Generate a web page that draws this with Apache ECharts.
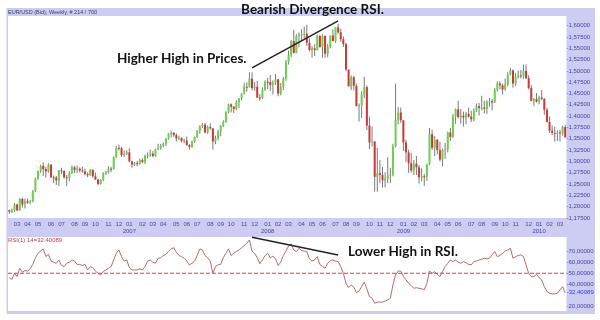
<!DOCTYPE html>
<html><head><meta charset="utf-8">
<script src="https://cdn.jsdelivr.net/npm/echarts@6/dist/echarts.min.js"></script>
<style>html,body{margin:0;padding:0;background:#fff}#c{width:600px;height:320px}</style>
</head><body><div id="c"></div>
<script>
// ---------- DATA (EUR/USD weekly, 214 bars from week of 2006-02-13) ----------
const firstWeek = '2006-02-13';
const weekCount = 214;

const opens = [
1.1920,1.1890,1.1920,1.2050,1.1920,1.2170,1.2050,1.2120,1.2090,1.2110,
1.2340,1.2620,1.2790,1.2900,1.2830,1.2780,1.2930,1.2650,1.2640,1.2580,
1.2800,1.2790,1.2650,1.2640,1.2740,1.2870,1.2810,1.2840,1.2800,1.2780,
1.2720,1.2700,1.2810,1.2670,1.2600,1.2500,1.2590,1.2740,1.2760,1.2840,
1.2830,1.3090,1.3300,1.3290,1.3140,1.3160,1.3200,1.3000,1.2930,1.2960,
1.2940,1.3030,1.2990,1.3120,1.3150,1.3170,1.3120,1.3270,1.3300,1.3350,
1.3390,1.3500,1.3620,1.3630,1.3580,1.3510,1.3520,1.3450,1.3460,1.3360,
1.3320,1.3440,1.3540,1.3680,1.3780,1.3810,1.3640,1.3760,1.3730,1.3440,
1.3520,1.3660,1.3790,1.3870,1.4090,1.4260,1.4210,1.4160,1.4310,1.4390,
1.4500,1.4650,1.4640,1.4830,1.4620,1.4650,1.4410,1.4400,1.4580,1.4760,
1.4750,1.4690,1.4740,1.4810,1.4500,1.4640,1.4830,1.5190,1.5350,1.5660,
1.5400,1.5780,1.5800,1.5810,1.5820,1.5620,1.5460,1.5500,1.5460,1.5770,
1.5530,1.5770,1.5380,1.5530,1.5780,1.5660,1.5960,1.5850,1.5700,1.5590,
1.5030,1.4660,1.4860,1.4670,1.4220,1.4240,1.4480,1.4640,1.3790,1.3420,
1.3440,1.2660,1.2740,1.2700,1.2580,1.2620,1.2690,1.2710,1.3340,1.3920,
1.4080,1.3910,1.3420,1.3200,1.2960,1.2800,1.2950,1.2870,1.2650,1.2670,
1.2660,1.2940,1.3600,1.3300,1.3480,1.3250,1.3040,1.3250,1.3270,1.3640,
1.3540,1.3990,1.4150,1.3980,1.4010,1.3970,1.4050,1.3990,1.3930,1.4120,
1.4220,1.4180,1.4190,1.4160,1.4320,1.4330,1.4300,1.4580,1.4720,1.4680,
1.4590,1.4700,1.4920,1.5010,1.4720,1.4860,1.4900,1.4880,1.5000,1.4840,
1.4620,1.4340,1.4380,1.4320,1.4410,1.4380,1.4140,1.3870,1.3680,1.3630,
1.3610,1.3640,1.3620,1.3760];

const closes = [
1.1890,1.1920,1.2050,1.1920,1.2170,1.2050,1.2120,1.2090,1.2110,1.2340,
1.2620,1.2790,1.2900,1.2830,1.2780,1.2930,1.2650,1.2640,1.2580,1.2800,
1.2790,1.2650,1.2640,1.2740,1.2870,1.2810,1.2840,1.2800,1.2780,1.2720,
1.2700,1.2810,1.2670,1.2600,1.2500,1.2590,1.2740,1.2760,1.2840,1.2830,
1.3090,1.3300,1.3290,1.3140,1.3160,1.3200,1.3000,1.2930,1.2960,1.2940,
1.3030,1.2990,1.3120,1.3150,1.3170,1.3120,1.3270,1.3300,1.3350,1.3390,
1.3500,1.3620,1.3630,1.3580,1.3510,1.3520,1.3450,1.3460,1.3360,1.3320,
1.3440,1.3540,1.3680,1.3780,1.3810,1.3640,1.3760,1.3730,1.3440,1.3520,
1.3660,1.3790,1.3870,1.4090,1.4260,1.4210,1.4160,1.4310,1.4390,1.4500,
1.4650,1.4640,1.4830,1.4620,1.4650,1.4410,1.4400,1.4580,1.4760,1.4750,
1.4690,1.4740,1.4810,1.4500,1.4640,1.4830,1.5190,1.5350,1.5660,1.5400,
1.5780,1.5800,1.5810,1.5820,1.5620,1.5460,1.5500,1.5460,1.5770,1.5530,
1.5770,1.5380,1.5530,1.5780,1.5660,1.5960,1.5850,1.5700,1.5590,1.5030,
1.4660,1.4860,1.4670,1.4220,1.4240,1.4480,1.4640,1.3790,1.3420,1.3440,
1.2660,1.2740,1.2700,1.2580,1.2620,1.2690,1.2710,1.3340,1.3920,1.4080,
1.3910,1.3420,1.3200,1.2960,1.2800,1.2950,1.2870,1.2650,1.2670,1.2660,
1.2940,1.3600,1.3300,1.3480,1.3250,1.3040,1.3250,1.3270,1.3640,1.3540,
1.3990,1.4150,1.3980,1.4010,1.3970,1.4050,1.3990,1.3930,1.4120,1.4220,
1.4180,1.4190,1.4160,1.4320,1.4330,1.4300,1.4580,1.4720,1.4680,1.4590,
1.4700,1.4920,1.5010,1.4720,1.4860,1.4900,1.4880,1.5000,1.4840,1.4620,
1.4340,1.4380,1.4320,1.4410,1.4380,1.4140,1.3870,1.3680,1.3630,1.3610,
1.3640,1.3620,1.3760,1.3530];

const highs = [
1.1940,1.1960,1.2080,1.2060,1.2190,1.2200,1.2180,1.2180,1.2150,1.2370,
1.2640,1.2800,1.2930,1.2980,1.2880,1.2960,1.2940,1.2690,1.2680,1.2810,
1.2860,1.2800,1.2700,1.2780,1.2910,1.2900,1.2910,1.2870,1.2880,1.2840,
1.2760,1.2830,1.2830,1.2750,1.2620,1.2610,1.2760,1.2790,1.2890,1.2880,
1.3110,1.3340,1.3370,1.3320,1.3240,1.3250,1.3290,1.3020,1.2990,1.3010,
1.3060,1.3070,1.3150,1.3200,1.3260,1.3230,1.3280,1.3390,1.3390,1.3420,
1.3520,1.3630,1.3680,1.3650,1.3620,1.3570,1.3530,1.3500,1.3550,1.3380,
1.3460,1.3550,1.3690,1.3800,1.3850,1.3850,1.3790,1.3840,1.3740,1.3570,
1.3700,1.3800,1.3910,1.4110,1.4280,1.4280,1.4220,1.4350,1.4400,1.4510,
1.4740,1.4750,1.4970,1.4970,1.4750,1.4780,1.4490,1.4640,1.4790,1.4850,
1.4910,1.4790,1.4930,1.4830,1.4730,1.4870,1.5240,1.5450,1.5680,1.5910,
1.5810,1.5850,1.5920,1.5980,1.6020,1.5720,1.5550,1.5590,1.5800,1.5800,
1.5810,1.5790,1.5600,1.5780,1.5920,1.5960,1.6040,1.5930,1.5760,1.5620,
1.5030,1.4900,1.4890,1.4720,1.4280,1.4550,1.4870,1.4680,1.3990,1.3770,
1.3450,1.3300,1.3030,1.2880,1.2760,1.3090,1.2860,1.3390,1.4720,1.4200,
1.4190,1.3910,1.3480,1.3260,1.3190,1.3030,1.3120,1.2920,1.2850,1.2720,
1.2950,1.3740,1.3700,1.3560,1.3490,1.3430,1.3280,1.3410,1.3660,1.3740,
1.4050,1.4170,1.4340,1.4160,1.4100,1.4090,1.4190,1.4120,1.4170,1.4280,
1.4290,1.4450,1.4340,1.4350,1.4400,1.4380,1.4620,1.4770,1.4770,1.4720,
1.4830,1.4970,1.5060,1.5030,1.4950,1.5010,1.5020,1.5140,1.5140,1.4900,
1.4690,1.4400,1.4510,1.4450,1.4580,1.4400,1.4190,1.3990,1.3790,1.3770,
1.3690,1.3700,1.3790,1.3810];

const lows = [
1.1840,1.1860,1.1880,1.1900,1.1910,1.1980,1.1960,1.2060,1.2050,1.2100,
1.2320,1.2590,1.2750,1.2680,1.2640,1.2750,1.2630,1.2520,1.2480,1.2460,
1.2720,1.2620,1.2460,1.2560,1.2720,1.2740,1.2740,1.2760,1.2750,1.2690,
1.2650,1.2680,1.2640,1.2590,1.2480,1.2490,1.2560,1.2700,1.2730,1.2760,
1.2820,1.3080,1.3240,1.3100,1.3100,1.3140,1.2980,1.2860,1.2900,1.2890,
1.2930,1.2960,1.2940,1.3070,1.3100,1.3090,1.3100,1.3250,1.3260,1.3310,
1.3340,1.3480,1.3530,1.3540,1.3440,1.3470,1.3420,1.3400,1.3350,1.3260,
1.3300,1.3410,1.3520,1.3610,1.3740,1.3620,1.3610,1.3700,1.3260,1.3380,
1.3470,1.3560,1.3760,1.3850,1.4060,1.4080,1.4070,1.4130,1.4180,1.4350,
1.4480,1.4540,1.4630,1.4570,1.4560,1.4400,1.4340,1.4380,1.4560,1.4600,
1.4560,1.4480,1.4690,1.4440,1.4460,1.4580,1.4780,1.5140,1.5300,1.5380,
1.5390,1.5520,1.5660,1.5710,1.5550,1.5430,1.5290,1.5330,1.5450,1.5510,
1.5290,1.5290,1.5300,1.5500,1.5650,1.5620,1.5820,1.5640,1.5530,1.4990,
1.4660,1.4580,1.4570,1.4220,1.3880,1.3960,1.4400,1.3690,1.3270,1.3330,
1.2330,1.2330,1.2520,1.2420,1.2430,1.2520,1.2520,1.2670,1.3310,1.3820,
1.3850,1.3230,1.2990,1.2750,1.2750,1.2700,1.2700,1.2510,1.2560,1.2460,
1.2570,1.2920,1.3250,1.3120,1.3160,1.3000,1.2890,1.3060,1.3200,1.3450,
1.3520,1.3830,1.3950,1.3830,1.3770,1.3820,1.3970,1.3870,1.3880,1.4090,
1.4010,1.4130,1.4060,1.4050,1.4210,1.4130,1.4300,1.4540,1.4590,1.4480,
1.4560,1.4660,1.4900,1.4630,1.4670,1.4830,1.4830,1.4830,1.4820,1.4590,
1.4330,1.4220,1.4300,1.4260,1.4350,1.4030,1.3860,1.3630,1.3580,1.3440,
1.3450,1.3440,1.3570,1.3530];

const rsi = [
46,44.5,50,47,54.5,51,52.5,52,54,58,
64,68,70,72,65,67,61,60,59,62,
57,56,59,60,62,61,58,58,57,58,
53,56,55,52,50,48.5,51.5,53,54.5,56,
62,68,71,65,61,62,55,53,53,53,
54,53,56,61,62,60,59,63.5,64,66,
67,70,72,73,69,66,65,63.5,61,57.5,
59,61,66,72,71,66,64,61,50,56,
57.6,58,64,68,72,66,68,69.6,71,73,
75,77,80,70,68,64,58.6,62,66,68,
64,65.5,63,57,60,66,70,74.5,76.5,71,
69.6,72.5,70.5,70,69.6,63,61,62,65,58,
56,54.6,59,61.5,62,61,60.5,56,50,41,
37,39.5,37.5,32.5,34,38,42,36,29,27.5,
23,24,24,24,25,26,27.5,39.5,48.5,52,
52,47.3,44,41,39,36.5,37,36.5,36,35,
41,52,50,51.5,49,47,51.5,56,59,62,
60.5,62,60,59,60.5,59.5,58,57.6,60.5,61,
62,62.5,63.6,63,63.6,66.6,69.6,65,66,68,
70,71,72.5,63.6,65,66,66.6,65,57.6,50,
47,47,49,46,44,38,33.5,32,31.5,31.5,
32,35,38,32.40089];

const priceTicks = [1.175,1.2,1.225,1.25,1.275,1.3,1.325,1.35,1.375,1.4,1.425,1.45,1.475,1.5,1.525,1.55,1.575,1.6];
const rsiTicks = [20,40,50,60,70];
const rsiMidLevel = 50;
// annotation trend lines: [week index, value]
const priceTrend = [[93, 1.5067],[126, 1.6104]];
const rsiTrend = [[93, 82.4],[126, 66.5]];

// ---------- CATEGORIES ----------
const weeks = [];
{
  const p = firstWeek.split('-').map(Number);
  const t0 = Date.UTC(p[0], p[1]-1, p[2]);
  for (let i = 0; i < weekCount; i++) weeks.push(new Date(t0 + i*7*86400000).toISOString().slice(0,10));
}
const monthStarts = new Set();
for (let i = 1; i < weeks.length; i++) if (weeks[i].slice(5,7) !== weeks[i-1].slice(5,7)) monthStarts.add(i);

const candles = weeks.map((w,i) => [i, opens[i], closes[i], lows[i], highs[i]]);

// ---------- LAYOUT ----------
const L = 8, W = 558.5;
const P1 = {top: 16, height: 202};
const P2 = {top: 237, height: 74};
const lav = '#cdcdf4';
const axisTxt = '#46469a';
const tinyFont = 'Liberation Sans';
const noteFont = 'bold 13.5px Lato';

const chart = echarts.init(document.getElementById('c'), null, {renderer: 'canvas'});

chart.setOption({
  animation: false,
  backgroundColor: '#ffffff',
  grid: [
    {left: L, top: P1.top, width: W, height: P1.height},
    {left: L, top: P2.top, width: W, height: P2.height}
  ],
  xAxis: [
    {type: 'category', gridIndex: 0, data: weeks, boundaryGap: true,
     axisLine: {show: false}, axisTick: {show: false}, splitLine: {show: false},
     axisLabel: {
       interval: (idx) => monthStarts.has(idx),
       formatter: (val) => { const m = val.slice(5,7); return m === '01' ? m + '\n' + val.slice(0,4) : m; },
       fontSize: 6, lineHeight: 6.5, color: axisTxt, margin: 3.5, fontFamily: tinyFont
     }},
    {type: 'category', gridIndex: 1, data: weeks, boundaryGap: true,
     axisLine: {show: false}, axisTick: {show: false}, axisLabel: {show: false}, splitLine: {show: false}}
  ],
  yAxis: [
    {type: 'value', gridIndex: 0, position: 'right', min: 1.175, max: 1.62125, interval: 0.025,
     axisLine: {show: false}, axisTick: {show: false}, splitLine: {show: false},
     axisLabel: {
       margin: 0, fontSize: 6, color: axisTxt, fontFamily: tinyFont,
       formatter: (v) => priceTicks.some(t => Math.abs(t - v) < 1e-6) ? '-' + v.toFixed(5).replace('.', ',') : ''
     }},
    {type: 'value', gridIndex: 1, position: 'right', min: 16, max: 82.7,
     axisLine: {show: false}, axisTick: {show: false}, splitLine: {show: false},
     axisLabel: {
       margin: 0, fontSize: 6, color: axisTxt, fontFamily: tinyFont, showMinLabel: true, showMaxLabel: true,
       formatter: (v) => rsiTicks.some(t => Math.abs(t - v) < 1e-6) ? '-' + v.toFixed(5).replace('.', ',') : ''
     }}
  ],
  graphic: [
    {type: 'rect', z: -2, silent: true, shape: {x: 6.5, y: 8, width: 588.5, height: 306}, style: {fill: lav}},
    {type: 'rect', z: -1, silent: true, shape: {x: L, y: P1.top, width: W, height: P1.height}, style: {fill: '#ffffff'}},
    {type: 'rect', z: -1, silent: true, shape: {x: L, y: P2.top, width: W, height: P2.height}, style: {fill: '#ffffff'}},
    {type: 'text', z: 10, silent: true, style: {x: 8, y: 12.3, text: 'EUR/USD (Bid), Weekly, # 214 / 700',
      font: '5.5px "Liberation Sans"', fill: '#3a3a5a', textAlign: 'left', textVerticalAlign: 'middle', align: 'left', verticalAlign: 'middle'}},
    {type: 'text', z: 10, silent: true, style: {x: 8, y: 240, text: 'RSI(1) 14=32.40089',
      font: '6px "Liberation Sans"', fill: '#c03c3c', textAlign: 'left', textVerticalAlign: 'middle', align: 'left', verticalAlign: 'middle'}},
    {type: 'text', z: 10, silent: true, style: {x: 312.5, y: 9.5, text: 'Bearish Divergence RSI.',
      font: noteFont, fill: '#111111', textAlign: 'center', textVerticalAlign: 'middle', align: 'center', verticalAlign: 'middle'}},
    {type: 'text', z: 10, silent: true, style: {x: 117, y: 58.5, text: 'Higher High in Prices.',
      font: noteFont, fill: '#111111', textAlign: 'left', textVerticalAlign: 'middle', align: 'left', verticalAlign: 'middle'}},
    {type: 'text', z: 10, silent: true, style: {x: 348, y: 251.5, text: 'Lower High in RSI.',
      font: noteFont, fill: '#111111', textAlign: 'left', textVerticalAlign: 'middle', align: 'left', verticalAlign: 'middle'}}
  ],
  series: [
    {
      type: 'custom', xAxisIndex: 0, yAxisIndex: 0, clip: true,
      data: candles,
      encode: {x: 0, y: [1, 2, 3, 4]},
      renderItem: function (params, api) {
        const i = api.value(0);
        const o = api.value(1), c = api.value(2), lo = api.value(3), hi = api.value(4);
        const pH = api.coord([i, hi]), pL = api.coord([i, lo]);
        const pO = api.coord([i, o]), pC = api.coord([i, c]);
        const x = pH[0];
        let y1 = Math.min(pO[1], pC[1]), y2 = Math.max(pO[1], pC[1]);
        if (y2 - y1 < 1) y2 = y1 + 1;
        const up = c >= o;
        return {type: 'group', children: [
          {type: 'line', shape: {x1: x, y1: pH[1], x2: x, y2: pL[1]}, style: {stroke: '#7a7a7a', lineWidth: 1}},
          {type: 'rect', shape: {x: x - 1, y: y1, width: 2, height: y2 - y1}, style: {fill: up ? '#6ccf4e' : '#cc3838'}}
        ]};
      },
      markLine: {
        silent: true, symbol: 'none', animation: false,
        lineStyle: {color: '#222222', width: 1.5, type: 'solid'},
        label: {show: false},
        data: [[{coord: priceTrend[0]}, {coord: priceTrend[1]}]]
      }
    },
    {
      // RSI 50 reference level (red dashed)
      type: 'custom', xAxisIndex: 1, yAxisIndex: 1, clip: false, z: 4,
      data: [[0, rsiMidLevel]],
      encode: {x: 0, y: 1},
      renderItem: function (params, api) {
        const cs = params.coordSys;
        const y = api.coord([api.value(0), api.value(1)])[1];
        return {type: 'line', shape: {x1: cs.x, y1: y, x2: cs.x + cs.width, y2: y},
          style: {stroke: '#f03a3a', lineWidth: 1.15, lineDash: [4, 2], opacity: 1}};
      }
    },
    {
      type: 'line', xAxisIndex: 1, yAxisIndex: 1, data: rsi,
      symbol: 'none', showSymbol: false, z: 3,
      lineStyle: {color: '#b86a6a', width: 1},
      endLabel: {show: true, distance: 1.5, fontSize: 6, color: '#2a3ae6', fontFamily: tinyFont,
        formatter: (p) => '-' + Number(p.value).toFixed(5).replace('.', ',')},
      markLine: {
        silent: true, symbol: 'none', animation: false, label: {show: false},
        lineStyle: {color: '#222222', width: 1.5, type: 'solid'},
        data: [[{coord: rsiTrend[0]}, {coord: rsiTrend[1]}]]
      }
    }
  ]
});
</script>
</body></html>
